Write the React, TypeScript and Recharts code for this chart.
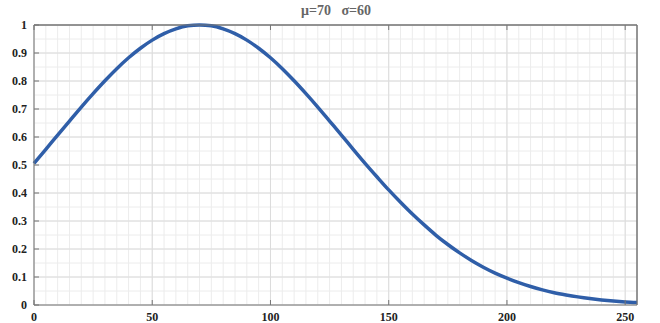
import { LineChart, Line, XAxis, YAxis, CartesianGrid, ReferenceLine } from 'recharts';

// x positions, every 5 units
const xs = [
    0, 5, 10, 15, 20, 25, 30, 35, 40, 45, 50, 55, 60, 65, 70, 75, 80, 85, 90, 95,
    100, 105, 110, 115, 120, 125, 130, 135, 140, 145, 150, 155, 160, 165, 170, 175,
    180, 185, 190, 195, 200, 205, 210, 215, 220, 225, 230, 235, 240, 245, 250, 255,
];
const ys = [
    0.506, 0.556, 0.607, 0.657, 0.707, 0.755, 0.801, 0.844, 0.883, 0.917, 0.946, 0.969,
    0.986, 0.997, 1.0, 0.997, 0.986, 0.969, 0.946, 0.917, 0.883, 0.844, 0.801, 0.755,
    0.707, 0.657, 0.607, 0.556, 0.506, 0.458, 0.411, 0.367, 0.325, 0.286, 0.249, 0.216,
    0.186, 0.159, 0.135, 0.114, 0.096, 0.080, 0.066, 0.054, 0.044, 0.036, 0.029, 0.023,
    0.018, 0.014, 0.011, 0.009,
];

const xTicks = [0, 50, 100, 150, 200, 250];
const yTicks = [0, 0.1, 0.2, 0.3, 0.4, 0.5, 0.6, 0.7, 0.8, 0.9, 1];
const minorX = Array.from({ length: 52 }, (_, i) => i * 5);
const minorY = Array.from({ length: 21 }, (_, i) => i * 0.05);

const data = xs.map((x, i) => ({ x, y: ys[i] }));

const tickStyle = { fontFamily: '"Liberation Serif", serif', fontSize: 12, fontWeight: 700, fill: '#222' };
const noLabel = () => <g />;

export default function App() {
    return (
        <div style={{ position: 'absolute', left: 0, top: 0, width: 660, height: 323, background: '#fff' }}>
            <div
                style={{
                    position: 'absolute',
                    left: 0,
                    width: 672,
                    top: 3,
                    textAlign: 'center',
                    fontFamily: '"Liberation Serif", serif',
                    fontWeight: 700,
                    fontSize: 14,
                    color: '#666',
                    whiteSpace: 'pre',
                }}
            >
                {'μ=70   σ=60'}
            </div>
            <LineChart width={660} height={323} data={data} margin={{ top: 24, right: 22, bottom: 0, left: 4 }}>
                <CartesianGrid
                    xAxisId="b"
                    yAxisId="l"
                    stroke="#ececec"
                    strokeWidth={1}
                    horizontalValues={minorY}
                    verticalValues={minorX}
                />
                <CartesianGrid
                    xAxisId="b"
                    yAxisId="l"
                    stroke="#dcdcdc"
                    strokeWidth={1}
                    horizontalValues={yTicks}
                    verticalValues={xTicks}
                />
                <XAxis
                    xAxisId="b"
                    dataKey="x"
                    type="number"
                    domain={[0, 255]}
                    ticks={xTicks}
                    height={18}
                    tick={tickStyle}
                    tickSize={-5}
                    tickMargin={12}
                    stroke="#777"
                    interval={0}
                />
                <XAxis
                    xAxisId="t"
                    dataKey="x"
                    type="number"
                    orientation="top"
                    domain={[0, 255]}
                    ticks={xTicks}
                    height={1}
                    tick={noLabel}
                    tickSize={-5}
                    stroke="#777"
                    interval={0}
                />
                <YAxis
                    yAxisId="l"
                    domain={[0, 1]}
                    ticks={yTicks}
                    width={30}
                    tick={tickStyle}
                    tickSize={-5}
                    tickMargin={12}
                    stroke="#777"
                    interval={0}
                />
                <YAxis
                    yAxisId="r"
                    orientation="right"
                    domain={[0, 1]}
                    ticks={yTicks}
                    width={1}
                    tick={noLabel}
                    tickSize={-5}
                    stroke="#777"
                    interval={0}
                />
                <ReferenceLine xAxisId="b" yAxisId="l" y={1} stroke="#777" ifOverflow="extendDomain" />
                <ReferenceLine xAxisId="b" yAxisId="l" x={255} stroke="#777" ifOverflow="extendDomain" />
                <Line
                    xAxisId="b"
                    yAxisId="l"
                    type="monotone"
                    dataKey="y"
                    stroke="#2f5ea8"
                    strokeWidth={3.5}
                    dot={false}
                    isAnimationActive={false}
                />
            </LineChart>
        </div>
    );
}
